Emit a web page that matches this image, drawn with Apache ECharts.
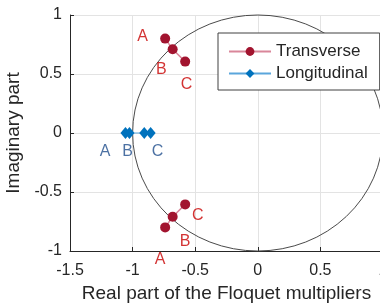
<!DOCTYPE html>
<html>
<head>
<meta charset="utf-8">
<script src="https://cdn.jsdelivr.net/npm/echarts@6/dist/echarts.min.js"></script>
<style>
  html, body { margin: 0; padding: 0; background: #fff; }
  #chart { width: 380px; height: 306px; }
</style>
</head>
<body>
<div id="chart"></div>
<script>
// Floquet multipliers (real, imaginary)
const transverseRe = [-0.74, -0.68, -0.58, null, -0.74, -0.68, -0.58];
const transverseIm = [0.80, 0.71, 0.605, null, -0.80, -0.71, -0.605];
const longitudinalRe = [-1.057, -1.025, -0.907, -0.856];
const longitudinalIm = [0, 0, 0, 0];

// A/B/C annotation labels, data coordinates
const redLabelNames = ['A', 'B', 'C', 'A', 'B', 'C'];
const redLabelRe = [-0.92, -0.77, -0.57, -0.78, -0.58, -0.48];
const redLabelIm = [0.82, 0.54, 0.41, -1.07, -0.92, -0.70];
const blueLabelNames = ['A', 'B', 'C'];
const blueLabelRe = [-1.22, -1.04, -0.80];
const blueLabelIm = [-0.16, -0.16, -0.16];

const xTicks = [-1.5, -1, -0.5, 0, 0.5, 1];
const yTicks = [-1, -0.5, 0, 0.5, 1];

const fontFamily = 'Liberation Sans, Arial, sans-serif';
const textColor = '#262626';

let chart = echarts.init(document.getElementById('chart'), null, {renderer: 'canvas'});

const pairs = (xs, ys) => xs.map((x, i) => (x === null ? null : [x, ys[i]]));
const labelData = (names, xs, ys) => names.map((n, i) => ({name: n, value: [xs[i], ys[i]]}));

chart.setOption({
  animation: false,
  textStyle: {fontFamily: fontFamily},
  grid: {left: 70, top: 15, right: -3, bottom: 55, containLabel: false, outerBoundsMode: 'none'},
  legend: {
    data: ['Transverse', 'Longitudinal'],
    orient: 'vertical',
    left: 218,
    top: 33,
    width: 156,
    padding: [10, 12, 8, 10],
    itemGap: 5,
    itemWidth: 42,
    itemHeight: 11,
    backgroundColor: '#fff',
    borderColor: '#404040',
    borderWidth: 1,
    borderRadius: 0,
    textStyle: {fontSize: 17, color: textColor, fontFamily: fontFamily},
  },
  xAxis: {
    type: 'value',
    min: -1.5,
    max: 1,
    interval: 0.5,
    name: 'Real part of the Floquet multipliers',
    nameLocation: 'middle',
    nameGap: 33,
    nameTextStyle: {fontSize: 19, color: textColor},
    axisLine: {onZero: false, lineStyle: {color: textColor, width: 1}},
    axisTick: {inside: true, length: 4, lineStyle: {color: textColor}},
    axisLabel: {
      fontSize: 16, color: textColor, margin: 12,
      formatter: (v) => (xTicks.includes(v) ? String(v) : ''),
    },
    splitLine: {show: true, lineStyle: {color: '#e3e3e3', width: 1}},
  },
  yAxis: {
    type: 'value',
    min: -1,
    max: 1,
    interval: 0.5,
    name: 'Imaginary part',
    nameLocation: 'middle',
    nameGap: 42,
    nameTextStyle: {fontSize: 19, color: textColor},
    axisLine: {show: true, onZero: false, lineStyle: {color: textColor, width: 1}},
    axisTick: {show: true, inside: true, length: 4, lineStyle: {color: textColor}},
    axisLabel: {
      fontSize: 16, color: textColor, margin: 8,
      formatter: (v) => (yTicks.includes(v) ? String(v) : ''),
    },
    splitLine: {show: true, lineStyle: {color: '#e3e3e3', width: 1}},
  },
  series: [
    {
      // unit circle
      type: 'custom',
      silent: true,
      clip: false,
      z: 1,
      data: [[0, 0, 1]],
      renderItem: (params, api) => {
        const c = api.coord([api.value(0), api.value(1)]);
        const s = api.size([api.value(2), api.value(2)]);
        return {
          type: 'circle',
          x: c[0],
          y: c[1],
          scaleY: s[1] / s[0],
          shape: {cx: 0, cy: 0, r: s[0]},
          style: {fill: 'none', stroke: '#444', lineWidth: 1},
        };
      },
    },
    {
      name: 'Transverse',
      type: 'line',
      z: 3,
      data: pairs(transverseRe, transverseIm),
      connectNulls: false,
      symbol: 'circle',
      symbolSize: 10,
      itemStyle: {color: '#A2142F'},
      lineStyle: {color: '#d9869a', width: 1.5},
    },
    {
      name: 'Longitudinal',
      type: 'line',
      z: 3,
      data: pairs(longitudinalRe, longitudinalIm),
      symbol: 'diamond',
      symbolSize: [10, 12],
      itemStyle: {color: '#0072BD'},
      lineStyle: {color: '#5aa6dc', width: 1.2},
    },
    {
      type: 'scatter',
      silent: true,
      clip: false,
      symbolSize: 0,
      z: 4,
      data: labelData(redLabelNames, redLabelRe, redLabelIm),
      label: {
        show: true, position: 'inside', formatter: '{b}',
        fontSize: 16, color: '#c80000', fontFamily: fontFamily,
      },
    },
    {
      type: 'scatter',
      silent: true,
      clip: false,
      symbolSize: 0,
      z: 4,
      data: labelData(blueLabelNames, blueLabelRe, blueLabelIm),
      label: {
        show: true, position: 'inside', formatter: '{b}',
        fontSize: 16, color: '#1f4e8c', fontFamily: fontFamily,
      },
    },
  ],
});
</script>
</body>
</html>
